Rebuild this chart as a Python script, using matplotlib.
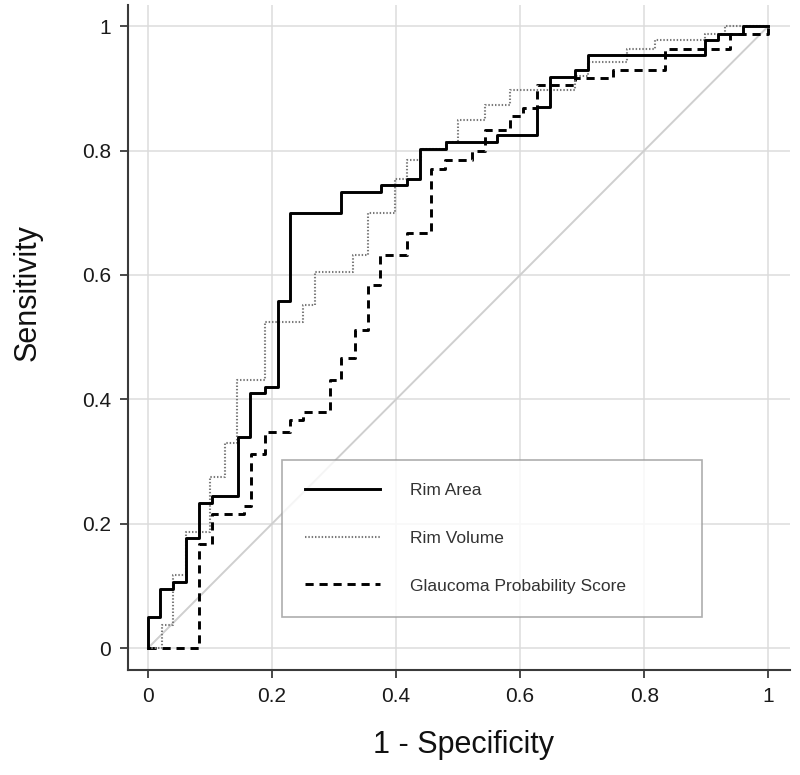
import matplotlib.pyplot as plt

plt.rcParams['font.family'] = ['Liberation Sans', 'DejaVu Sans']

# ROC curves: false positive rate where the curve rises, and the sensitivity it rises to
rim_area_fpr = [0, 0.02, 0.04, 0.061, 0.082, 0.103, 0.145, 0.165, 0.189, 0.209, 0.229,
                0.312, 0.376, 0.418, 0.439, 0.48, 0.562, 0.627, 0.648, 0.689, 0.71,
                0.898, 0.919, 0.96]
rim_area_tpr = [0.05, 0.095, 0.107, 0.177, 0.234, 0.245, 0.339, 0.41, 0.42, 0.559, 0.699,
                0.734, 0.744, 0.755, 0.802, 0.814, 0.825, 0.87, 0.918, 0.929, 0.953,
                0.977, 0.988, 1.0]

rim_volume_fpr = [0.022, 0.04, 0.061, 0.1, 0.124, 0.143, 0.189, 0.25, 0.27, 0.331, 0.355,
                  0.398, 0.417, 0.44, 0.48, 0.5, 0.544, 0.584, 0.689, 0.71, 0.772, 0.818,
                  0.898, 0.93]
rim_volume_tpr = [0.037, 0.117, 0.187, 0.275, 0.33, 0.431, 0.525, 0.551, 0.605, 0.632, 0.699,
                  0.755, 0.785, 0.802, 0.814, 0.849, 0.873, 0.897, 0.92, 0.942, 0.964, 0.977,
                  0.988, 1.0]

gps_fpr = [0.082, 0.103, 0.155, 0.167, 0.189, 0.229, 0.25, 0.294, 0.312, 0.334, 0.355,
           0.374, 0.417, 0.457, 0.479, 0.522, 0.544, 0.584, 0.605, 0.627, 0.689, 0.75,
           0.834, 0.939, 1.0]
gps_tpr = [0.168, 0.216, 0.228, 0.313, 0.347, 0.367, 0.38, 0.431, 0.466, 0.511, 0.584,
           0.632, 0.667, 0.771, 0.785, 0.8, 0.833, 0.855, 0.868, 0.905, 0.917, 0.929,
           0.964, 0.988, 1.0]

ticks = [0, 0.2, 0.4, 0.6, 0.8, 1]
tick_labels = ['0', '0.2', '0.4', '0.6', '0.8', '1']


def roc_xy(fpr, tpr):
    return [0] + fpr + [1], [0] + tpr + [tpr[-1]]


fig = plt.figure(figsize=(8, 7.75), dpi=100)
ax = fig.add_axes([0.16, 0.1355, 0.8275, 0.858])

ax.plot([0, 1], [0, 1], color='#cfcfcf', lw=1.4, zorder=1)

x, y = roc_xy(gps_fpr, gps_tpr)
ax.step(x, y, where='post', color='black', lw=2.1, linestyle=(0, (2.8, 2.0)),
        label='Glaucoma Probability Score', zorder=3)
x, y = roc_xy(rim_volume_fpr, rim_volume_tpr)
ax.step(x, y, where='post', color='#7a7a7a', lw=1.5, linestyle=(0, (0.7, 0.9)),
        label='Rim Volume', zorder=4)
x, y = roc_xy(rim_area_fpr, rim_area_tpr)
ax.step(x, y, where='post', color='black', lw=2.1, label='Rim Area', zorder=5)

ax.set_xlim(-0.032, 1.035)
ax.set_ylim(-0.035, 1.034)
ax.set_xticks(ticks)
ax.set_xticklabels(tick_labels)
ax.set_yticks(ticks)
ax.set_yticklabels(tick_labels)
ax.grid(True, color='#dcdcdc', lw=1.1)
ax.set_axisbelow(True)

for side in ['top', 'right']:
    ax.spines[side].set_visible(False)
for side in ['left', 'bottom']:
    ax.spines[side].set_color('#3a3a3a')
    ax.spines[side].set_linewidth(1.5)
ax.tick_params(direction='out', length=6, width=1.3, color='#3a3a3a',
               labelsize=15, labelcolor='#1a1a1a', pad=6)

ax.set_xlabel('1 - Specificity', fontsize=22, color='#111111', va='center')
ax.set_ylabel('Sensitivity', fontsize=22, color='#111111', va='center')
ax.xaxis.set_label_coords(0.507, -0.113)
ax.yaxis.set_label_coords(-0.152, 0.567)

handles, labels = ax.get_legend_handles_labels()
order = [2, 1, 0]
leg = ax.legend([handles[i] for i in order], [labels[i] for i in order],
                loc='lower left', bbox_to_anchor=(0.2326, 0.0797, 0.634, 0.236),
                mode='expand', borderaxespad=0, fontsize=12.5, frameon=True,
                fancybox=False, handlelength=4.3, handletextpad=1.7,
                borderpad=1.35, labelspacing=1.87)
leg.get_frame().set_edgecolor('#9a9a9a')
leg.get_frame().set_linewidth(1.2)
for t in leg.get_texts():
    t.set_color('#333333')

fig.savefig('out.png', dpi=100)
